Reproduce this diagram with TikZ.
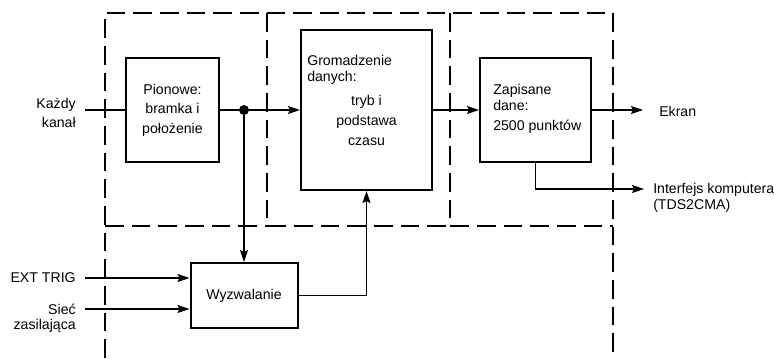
\documentclass[tikz,border=0pt]{standalone}
\usepackage{fontspec}
\setmainfont{Liberation Sans}
\usetikzlibrary{arrows.meta, positioning, calc}

\tikzset{
  blok/.style={draw, line width=1.5pt, inner sep=0pt},
  ramka/.style={line width=1pt, dash pattern=on 14pt off 6pt},
  polacz/.style={line width=0.9pt},
  etyk/.style={inner sep=0pt, font=\fontsize{10.6}{12}\selectfont},
  kropka/.style={circle, fill, inner sep=0pt, minimum size=7.5pt},
}

\begin{document}
\begin{tikzpicture}[x=0.75pt, y=-0.75pt, >={Stealth[length=9pt,width=6pt,inset=1.5pt]},
  every node/.style={font=\fontsize{10.6}{14.6}\selectfont}]
  \useasboundingbox (0,0) rectangle (774,358);
  % ramki przerywane
  \draw[ramka] (105,358) -- (105,13) -- (613,13) -- (613,358);
  \draw[ramka] (105,226) -- (267,226);
  \foreach \xa/\xb in {267/450, 450/613}{
    \draw[ramka] (\xa,13) -- (\xa,226) -- (\xb,226);
  }
  % bloki
  \node[blok, minimum width=69.75pt, minimum height=78pt, align=center] (pion) at (172.5,110) {Pionowe:\\bramka i\\położenie};
  \node[blok, minimum width=98.25pt, minimum height=120pt] (grom) at (366.5,110) {};
  \node[blok, minimum width=83.25pt, minimum height=78pt] (zap) at (535.5,110) {};
  \node[blok, minimum width=80.25pt, minimum height=48.75pt] (wyzw) at (244,295.5) {Wyzwalanie};
  \node[kropka] (rozg) at (244,110) {};
  % teksty w blokach
  \node[etyk, align=left, anchor=west] (gromA) at (307,70) {Gromadzenie\\danych:};
  \node[etyk, align=center, font=\fontsize{10.6}{15}\selectfont] (gromB) at (366.5,120.5) {tryb i\\podstawa\\czasu};
  \node[etyk, align=left, anchor=west] (zapA) at (493,97) {Zapisane\\dane:};
  \node[etyk, anchor=west] (zapB) at (493,127) {2500 punktów};
  % wejscia
  \node[etyk, align=right, anchor=east, inner xsep=6.75pt, font=\fontsize{10.6}{14.25}\selectfont] (kazdy) at (85,112.5) {Każdy\\kanał};
  \node[etyk, anchor=east, inner xsep=6.75pt] (ext) at (85,278) {EXT TRIG};
  \node[etyk, anchor=east, inner xsep=6.75pt] (siec) at (85,309) {Sieć};
  \node[etyk, anchor=base east, inner xsep=6.75pt] (zasil) at ([yshift=-11.25pt]siec.base east) {zasilająca};
  % wyjscia
  \node[etyk, anchor=west, inner xsep=12pt] (ekran) at (643,111) {Ekran};
  \coordinate (komp) at (644,189);
  \node[etyk, align=left, anchor=west] (interf) at (653,197.5) {Interfejs komputera\\(TDS2CMA)};
  % polaczenia
  \draw[polacz] (kazdy.east |- pion.west) -- (pion.west);
  \draw[polacz] (pion.east) -- (rozg);
  \draw[polacz, ->] (rozg) -- (grom.west);
  \draw[polacz, ->] (rozg) -- (wyzw.north);
  \draw[polacz, ->] (grom.east) -- (zap.west);
  \draw[polacz, ->] (zap.east) -- (zap.east -| ekran.west);
  \draw[polacz, ->] (zap.south) |- (komp);
  \draw[polacz, ->] (ext.east) -- (ext.east -| wyzw.west);
  \draw[polacz, ->] (siec.east) -- (siec.east -| wyzw.west);
  \draw[polacz, ->] (wyzw.east) -| (grom.south);
\end{tikzpicture}
\end{document}
